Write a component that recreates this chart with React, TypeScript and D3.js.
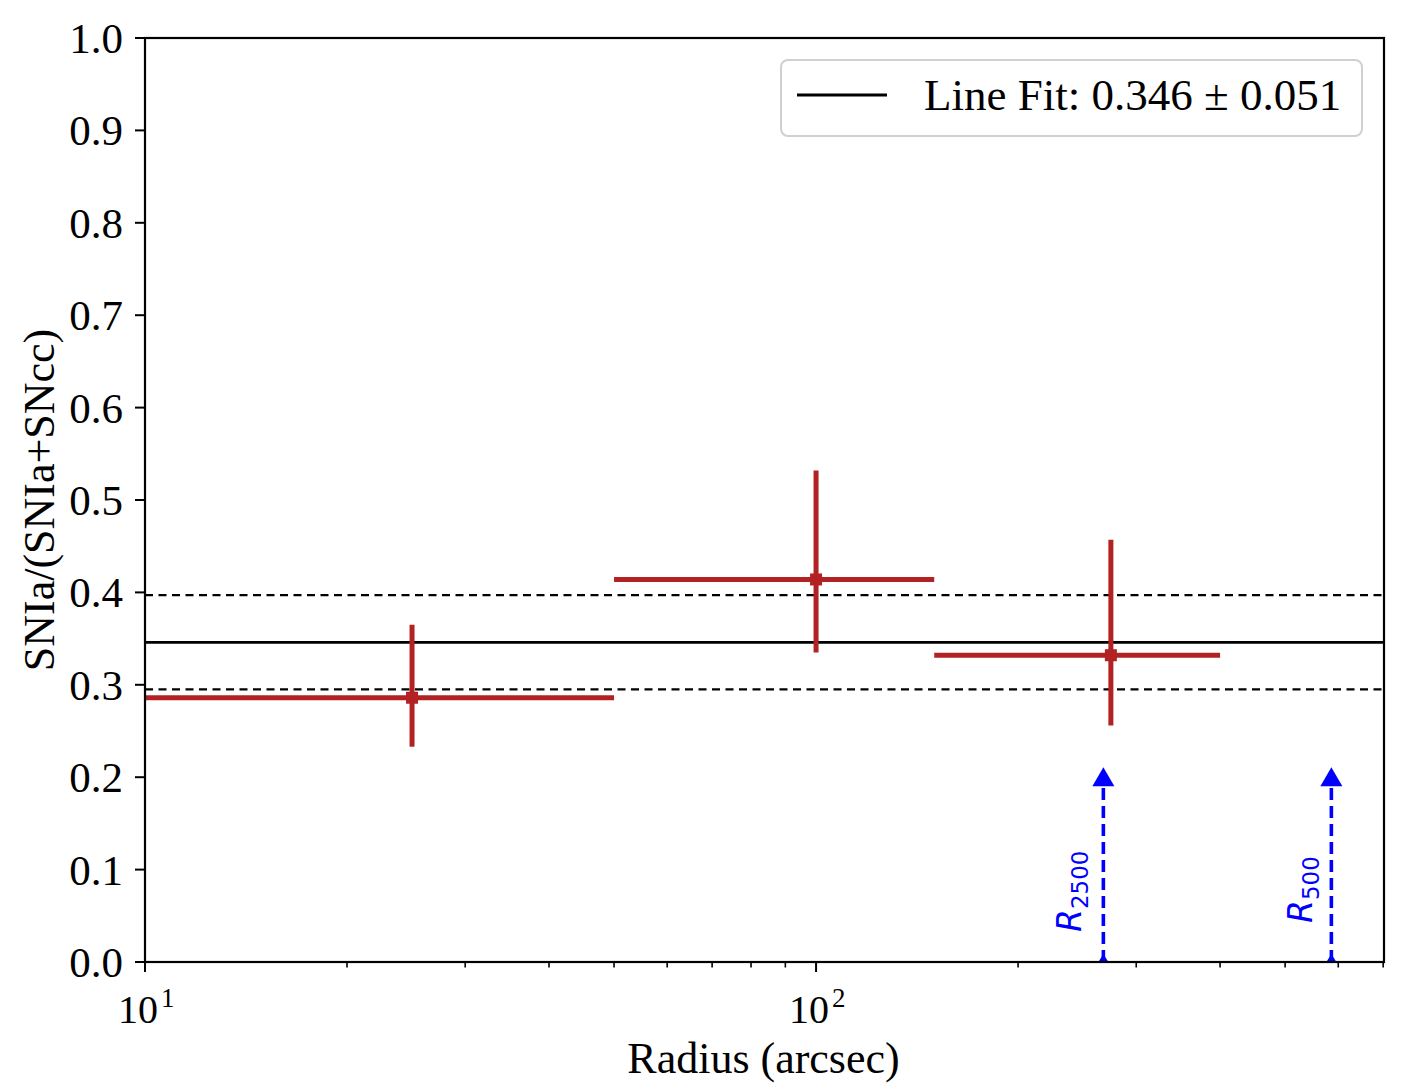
import { useEffect, useRef } from "react";
import * as d3 from "d3";

// radius bins (arcsec) and SNIa fraction
const binCenters = [25, 100, 275];
const binLow = [10, 50, 150];
const binHigh = [50, 150, 400];
const fraction = [0.286, 0.414, 0.332];
const fracLow = [0.233, 0.335, 0.256];
const fracHigh = [0.365, 0.532, 0.457];

const fitValue = 0.346;
const fitError = 0.051;

const markerNames = ["2500", "500"];
const markerRadius = [268, 586];
const markerTop = 0.2;

const yTicks = [0, 0.1, 0.2, 0.3, 0.4, 0.5, 0.6, 0.7, 0.8, 0.9, 1.0];
const xMajor = [10, 100];
const xMinor = [20, 30, 40, 50, 60, 70, 80, 90, 200, 300, 400, 500, 600, 700];

const W = 1410;
const H = 1089;
const margin = { top: 38, right: 26, bottom: 127, left: 145 };
const serif = "'Liberation Serif', 'Times New Roman', serif";
const sans = "'DejaVu Sans', sans-serif";
const red = "#b22222";

export default function App() {
  const svgRef = useRef<SVGSVGElement>(null);

  useEffect(() => {
    if (!svgRef.current) return;
    d3.select(svgRef.current).selectAll("*").remove();

    const innerWidth = W - margin.left - margin.right;
    const innerHeight = H - margin.top - margin.bottom;

    const x = d3.scaleLog().domain([10, 702]).range([0, innerWidth]);
    const y = d3.scaleLinear().domain([0, 1]).range([innerHeight, 0]);

    const svg = d3.select(svgRef.current).attr("width", W).attr("height", H);
    svg.append("rect").attr("width", W).attr("height", H).attr("fill", "white");

    const g = svg
      .append("g")
      .attr("transform", `translate(${margin.left},${margin.top})`);

    svg
      .append("defs")
      .append("clipPath")
      .attr("id", "plotClip")
      .append("rect")
      .attr("width", innerWidth)
      .attr("height", innerHeight);

    const plot = g.append("g").attr("clip-path", "url(#plotClip)");

    // fit line and 1-sigma band
    plot
      .append("line")
      .attr("x1", 0)
      .attr("x2", innerWidth)
      .attr("y1", y(fitValue))
      .attr("y2", y(fitValue))
      .attr("stroke", "black")
      .attr("stroke-width", 2.8);

    [fitValue + fitError, fitValue - fitError].forEach((v) => {
      plot
        .append("line")
        .attr("x1", 0)
        .attr("x2", innerWidth)
        .attr("y1", y(v))
        .attr("y2", y(v))
        .attr("stroke", "black")
        .attr("stroke-width", 2.2)
        .attr("stroke-dasharray", "8,5.5");
    });

    // error bars
    binCenters.forEach((c, i) => {
      plot
        .append("line")
        .attr("x1", x(binLow[i]))
        .attr("x2", x(binHigh[i]))
        .attr("y1", y(fraction[i]))
        .attr("y2", y(fraction[i]))
        .attr("stroke", red)
        .attr("stroke-width", 5);
      plot
        .append("line")
        .attr("x1", x(c))
        .attr("x2", x(c))
        .attr("y1", y(fracLow[i]))
        .attr("y2", y(fracHigh[i]))
        .attr("stroke", red)
        .attr("stroke-width", 5);
      plot
        .append("rect")
        .attr("x", x(c) - 6)
        .attr("y", y(fraction[i]) - 6)
        .attr("width", 12)
        .attr("height", 12)
        .attr("fill", red);
    });

    // R2500 / R500 arrows
    markerRadius.forEach((r, i) => {
      const px = x(r);
      plot
        .append("line")
        .attr("x1", px)
        .attr("x2", px)
        .attr("y1", y(0))
        .attr("y2", y(markerTop) + 9)
        .attr("stroke", "blue")
        .attr("stroke-width", 3.6)
        .attr("stroke-dasharray", "12,6");
      const tip = y(markerTop) - 10;
      plot
        .append("path")
        .attr(
          "d",
          `M${px},${tip} L${px - 11},${tip + 19} L${px + 11},${tip + 19} Z`
        )
        .attr("fill", "blue");
      plot
        .append("path")
        .attr(
          "d",
          `M${px},${y(0) - 8} L${px - 5},${y(0)} L${px + 5},${y(0)} Z`
        )
        .attr("fill", "blue");

      const label = g
        .append("text")
        .attr(
          "transform",
          `translate(${px - (i === 0 ? 22 : 19)},${i === 0 ? y(0) - 30 : y(0) - 39}) rotate(-90)`
        )
        .attr("font-family", sans)
        .attr("fill", "blue")
        .attr("font-size", 33);
      label.append("tspan").attr("font-style", "italic").text("R");
      label
        .append("tspan")
        .attr("font-size", 23)
        .attr("dy", 7)
        .text(markerNames[i]);
    });

    // axes frame
    g.append("rect")
      .attr("width", innerWidth)
      .attr("height", innerHeight)
      .attr("fill", "none")
      .attr("stroke", "black")
      .attr("stroke-width", 2.2);

    // y ticks
    yTicks.forEach((t) => {
      g.append("line")
        .attr("x1", -10)
        .attr("x2", 0)
        .attr("y1", y(t))
        .attr("y2", y(t))
        .attr("stroke", "black")
        .attr("stroke-width", 2);
      g.append("text")
        .attr("x", -22)
        .attr("y", y(t) + 15)
        .attr("text-anchor", "end")
        .attr("font-family", serif)
        .attr("font-size", 43)
        .text(t.toFixed(1));
    });

    // x ticks
    xMajor.forEach((t) => {
      g.append("line")
        .attr("x1", x(t))
        .attr("x2", x(t))
        .attr("y1", innerHeight)
        .attr("y2", innerHeight + 10)
        .attr("stroke", "black")
        .attr("stroke-width", 2);
      const lbl = g
        .append("text")
        .attr("x", x(t) - 27)
        .attr("y", innerHeight + 61)
        .attr("font-family", serif)
        .attr("font-size", 40);
      lbl.append("tspan").text("10");
      lbl
        .append("tspan")
        .attr("font-size", 27)
        .attr("dy", -16)
        .attr("dx", 3)
        .text(String(Math.round(Math.log10(t))));
    });
    xMinor.forEach((t) => {
      g.append("line")
        .attr("x1", x(t))
        .attr("x2", x(t))
        .attr("y1", innerHeight)
        .attr("y2", innerHeight + 5.5)
        .attr("stroke", "black")
        .attr("stroke-width", 1.6);
    });

    // axis labels
    g.append("text")
      .attr("x", innerWidth / 2 - 1)
      .attr("y", innerHeight + 111)
      .attr("text-anchor", "middle")
      .attr("font-family", serif)
      .attr("font-size", 44)
      .text("Radius (arcsec)");

    g.append("text")
      .attr("transform", `translate(-91,${innerHeight / 2}) rotate(-90)`)
      .attr("text-anchor", "middle")
      .attr("font-family", serif)
      .attr("font-size", 44)
      .text("SNIa/(SNIa+SNcc)");

    // legend
    const legend = g
      .append("g")
      .attr("transform", `translate(${781 - margin.left},${60 - margin.top})`);
    legend
      .append("rect")
      .attr("width", 581)
      .attr("height", 76)
      .attr("rx", 7)
      .attr("fill", "white")
      .attr("fill-opacity", 0.8)
      .attr("stroke", "#d0d0d0")
      .attr("stroke-width", 2);
    legend
      .append("line")
      .attr("x1", 16)
      .attr("x2", 106)
      .attr("y1", 35)
      .attr("y2", 35)
      .attr("stroke", "black")
      .attr("stroke-width", 2.8);
    legend
      .append("text")
      .attr("x", 143)
      .attr("y", 50)
      .attr("font-family", serif)
      .attr("font-size", 45)
      .text(`Line Fit: ${fitValue.toFixed(3)} \u00b1 ${fitError.toFixed(3)}`);
  }, []);

  return (
    <svg
      ref={svgRef}
      style={{ position: "absolute", left: 0, top: 0, display: "block" }}
    ></svg>
  );
}
